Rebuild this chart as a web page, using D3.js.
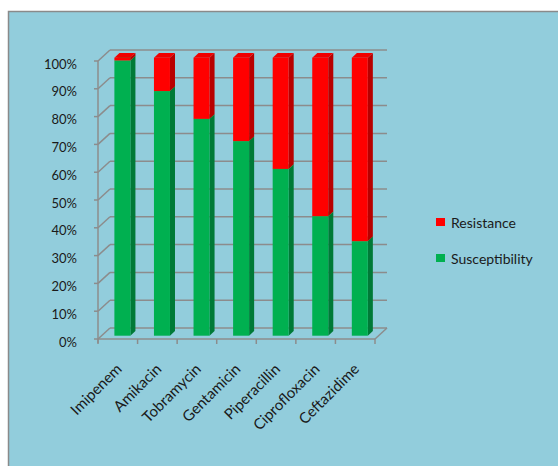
<!DOCTYPE html>
<html>
<head>
<meta charset="utf-8">
<script src="https://cdn.jsdelivr.net/npm/d3@7"></script>
<style>
  body { margin: 0; background: #fff; }
  text { font-family: Lato, "Open Sans", sans-serif; fill: #1a1a1a; }
</style>
</head>
<body>
<svg id="chart" width="558" height="466"></svg>
<script>
var categories = ["Imipenem", "Amikacin", "Tobramycin", "Gentamicin", "Piperacillin", "Ciprofloxacin", "Ceftazidime"];
var susceptibility = [99, 88, 78, 70, 60, 43, 34];
var resistance = [1, 12, 22, 30, 40, 57, 66];
var yTicks = [0, 10, 20, 30, 40, 50, 60, 70, 80, 90, 100];
var seriesNames = ["Resistance", "Susceptibility"];

var svg = d3.select("#chart");

// chart area
svg.append("rect")
  .attr("x", 8.5).attr("y", 11.5)
  .attr("width", 560).attr("height", 470)
  .attr("fill", "#92cddc")
  .attr("stroke", "#8a8a8a")
  .attr("stroke-width", 1.5);

var x = d3.scaleBand().domain(categories).range([98, 375]);
var y = d3.scaleLinear().domain([0, 100]).range([339, 61]);

// depth of the 3d box
var dx = 12, dy = -11;
var grid = svg.append("g").attr("stroke", "#8c8c8c").attr("stroke-width", 1.5).attr("fill", "none");

yTicks.forEach(function(t){
  grid.append("line")
    .attr("x1", 98 + dx).attr("x2", 375 + dx)
    .attr("y1", y(t) + dy).attr("y2", y(t) + dy);
  grid.append("line")
    .attr("x1", 98).attr("x2", 98 + dx)
    .attr("y1", y(t)).attr("y2", y(t) + dy);
  grid.append("line")
    .attr("x1", 94).attr("x2", 98)
    .attr("y1", y(t)).attr("y2", y(t));
});
grid.append("line").attr("x1", 98).attr("x2", 98).attr("y1", y(100)).attr("y2", y(0) + 4);
grid.append("line").attr("x1", 98).attr("x2", 375).attr("y1", y(0)).attr("y2", y(0));
grid.append("line").attr("x1", 375).attr("x2", 375 + dx).attr("y1", y(0)).attr("y2", y(0) + dy);
categories.forEach(function(c){
  grid.append("line").attr("x1", x(c)).attr("x2", x(c)).attr("y1", y(0)).attr("y2", y(0) + 5);
});
grid.append("line").attr("x1", 375).attr("x2", 375).attr("y1", y(0)).attr("y2", y(0) + 5);

// y labels
svg.append("g").selectAll("text")
  .data(yTicks)
  .join("text")
  .attr("x", 77)
  .attr("y", function(d){ return y(d) + 3; })
  .attr("dy", "0.35em")
  .attr("text-anchor", "end")
  .attr("font-size", 13)
  .text(function(d){ return d + "%"; });

// bars
var barW = 16;
var f0 = 0.3, f1 = 0.72; // front and back of bar inside the depth
var bdx = dx * (f1 - f0), bdy = dy * (f1 - f0);

var series = [
  { values: susceptibility, front: "#00b050", side: "#007a37", top: "#00c85a" },
  { values: resistance, front: "#ff0000", side: "#b80000", top: "#f00000" }
];

var bars = svg.append("g");
categories.forEach(function(c, i){
  var cx = x(c) + x.bandwidth() / 2 + dx * f0;
  var x0 = cx - barW / 2 + 1, x1 = cx + barW / 2 + 1;
  var base = 0;
  series.forEach(function(s){
    var v = s.values[i];
    var yb = y(base) + dy * f0, yt = y(base + v) + dy * f0;
    bars.append("path")
      .attr("d", "M" + x1 + "," + yb + "L" + (x1 + bdx) + "," + (yb + bdy) + "L" + (x1 + bdx) + "," + (yt + bdy) + "L" + x1 + "," + yt + "Z")
      .attr("fill", s.side);
    bars.append("rect")
      .attr("x", x0).attr("y", yt)
      .attr("width", x1 - x0).attr("height", yb - yt)
      .attr("fill", s.front);
    bars.append("path")
      .attr("d", "M" + x0 + "," + yt + "L" + x1 + "," + yt + "L" + (x1 + bdx) + "," + (yt + bdy) + "L" + (x0 + bdx) + "," + (yt + bdy) + "Z")
      .attr("fill", s.top);
    base += v;
  });
});

// category labels
svg.append("g").selectAll("text")
  .data(categories)
  .join("text")
  .attr("transform", function(d){ return "translate(" + (x(d) + x.bandwidth() / 2 + 5) + ",370) rotate(-45)"; })
  .attr("text-anchor", "end")
  .attr("font-size", 15)
  .text(function(d){ return d; });

// legend
var legendColors = ["#ff0000", "#00b050"];
var legend = svg.append("g");
seriesNames.forEach(function(n, i){
  var ly = 222 + i * 36;
  legend.append("rect")
    .attr("x", 436).attr("y", ly - 4)
    .attr("width", 9).attr("height", 8)
    .attr("fill", legendColors[i]);
  legend.append("text")
    .attr("x", 451).attr("y", ly + 1)
    .attr("dy", "0.35em")
    .attr("font-size", 14)
    .text(n);
});
</script>
</body>
</html>
